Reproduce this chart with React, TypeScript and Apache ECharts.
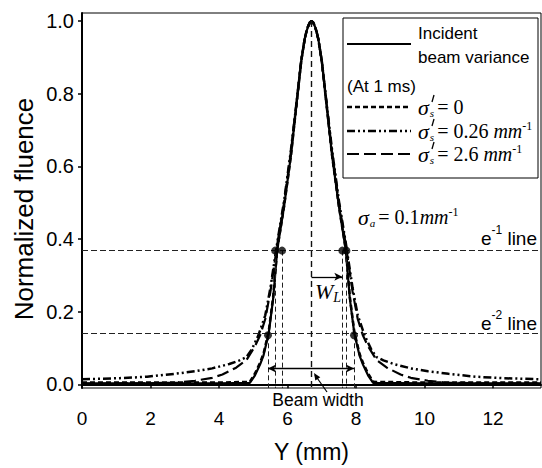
import React, { useEffect, useRef } from "react";
import * as echarts from "echarts";

const SANS = "'Liberation Sans', Arial, sans-serif";
const SERIF = "'Liberation Serif', 'Times New Roman', serif";

// ---- axes ----
const xTicks = [0, 2, 4, 6, 8, 10, 12];
const yTicks = [0, 0.2, 0.4, 0.6, 0.8, 1.0];

// ---- Incident beam variance (solid) ----
const incidentX = [0, 2, 4, 4.9, 5.05, 5.2, 5.3, 5.45, 5.58, 5.7, 5.9, 6.1, 6.25, 6.4, 6.5, 6.55, 6.6, 6.65, 6.7, 6.75, 6.8, 6.85, 6.9, 7.0, 7.15, 7.3, 7.5, 7.7, 7.82, 7.95, 8.1, 8.2, 8.35, 8.5, 10, 12, 13.4];
const incidentY = [0.003, 0.003, 0.003, 0.004, 0.025, 0.055, 0.08, 0.14, 0.235, 0.37, 0.49, 0.63, 0.76, 0.89, 0.95, 0.97, 0.985, 0.996, 1.0, 0.996, 0.985, 0.97, 0.95, 0.89, 0.76, 0.63, 0.49, 0.37, 0.235, 0.14, 0.08, 0.055, 0.025, 0.004, 0.003, 0.003, 0.003];

// ---- sigma_s' = 0 (short dash) ----
const zeroX = [0, 2, 4, 4.9, 5.05, 5.2, 5.3, 5.45, 5.58, 5.7, 5.9, 6.1, 6.25, 6.4, 6.5, 6.55, 6.6, 6.65, 6.7, 6.75, 6.8, 6.85, 6.9, 7.0, 7.15, 7.3, 7.5, 7.7, 7.82, 7.95, 8.1, 8.2, 8.35, 8.5, 10, 12, 13.4];
const zeroY = [0.005, 0.005, 0.005, 0.007, 0.03, 0.06, 0.085, 0.145, 0.24, 0.372, 0.49, 0.63, 0.76, 0.89, 0.95, 0.97, 0.985, 0.996, 1.0, 0.996, 0.985, 0.97, 0.95, 0.89, 0.76, 0.63, 0.49, 0.372, 0.24, 0.145, 0.085, 0.06, 0.03, 0.007, 0.005, 0.005, 0.005];

// ---- sigma_s' = 0.26 mm^-1 (dash-dot-dot) ----
const s026X = [0, 1.1, 1.9, 2.7, 3.3, 3.8, 4.3, 4.6, 4.8, 4.95, 5.15, 5.35, 5.5, 5.7, 5.9, 6.1, 6.25, 6.4, 6.5, 6.55, 6.6, 6.65, 6.7, 6.75, 6.8, 6.85, 6.9, 7.0, 7.15, 7.3, 7.5, 7.7, 7.9, 8.05, 8.25, 8.45, 8.6, 8.8, 9.1, 9.6, 10.1, 10.7, 11.5, 12.3, 13.4];
const s026Y = [0.014, 0.017, 0.021, 0.029, 0.036, 0.044, 0.056, 0.066, 0.075, 0.095, 0.135, 0.19, 0.265, 0.39, 0.505, 0.645, 0.765, 0.89, 0.95, 0.97, 0.985, 0.996, 1.0, 0.996, 0.985, 0.97, 0.95, 0.89, 0.765, 0.645, 0.505, 0.39, 0.265, 0.19, 0.135, 0.095, 0.075, 0.066, 0.056, 0.044, 0.036, 0.029, 0.021, 0.017, 0.014];

// ---- sigma_s' = 2.6 mm^-1 (long dash) ----
const s26X = [0, 2.0, 2.8, 3.3, 3.8, 4.1, 4.5, 4.8, 5.05, 5.2, 5.35, 5.5, 5.7, 5.9, 6.1, 6.25, 6.4, 6.5, 6.55, 6.6, 6.65, 6.7, 6.75, 6.8, 6.85, 6.9, 7.0, 7.15, 7.3, 7.5, 7.7, 7.9, 8.05, 8.2, 8.35, 8.6, 8.9, 9.3, 9.6, 10.1, 10.6, 11.4, 13.4];
const s26Y = [0.002, 0.003, 0.005, 0.01, 0.018, 0.027, 0.046, 0.067, 0.105, 0.135, 0.18, 0.255, 0.385, 0.5, 0.64, 0.765, 0.89, 0.95, 0.97, 0.985, 0.996, 1.0, 0.996, 0.985, 0.97, 0.95, 0.89, 0.765, 0.64, 0.5, 0.385, 0.255, 0.18, 0.135, 0.105, 0.067, 0.046, 0.027, 0.018, 0.01, 0.005, 0.003, 0.002];

// ---- annotation values ----
const beamCenter = 6.7;
const eLevels = [0.368, 0.135];
const e1Crossings = [5.64, 5.84, 7.6, 7.72];
const e2Crossings = [5.43, 7.94];
const wlLevel = 0.296;
const beamWidthLevel = 0.044;
const yMin = -0.01;
const yMax = 1.022;

const zip = (xs: number[], ys: number[]) => xs.map((x, i) => [x, ys[i]]);

const mathRich = {
  g: { fontSize: 22, fontFamily: SERIF, fontStyle: "italic", lineHeight: 22, fill: "#000" },
  sub: { fontSize: 11, fontFamily: SERIF, fontStyle: "italic", lineHeight: 10, verticalAlign: "bottom", fill: "#000", padding: [0, 3, 0, 1] },
  r: { fontSize: 20, fontFamily: SERIF, lineHeight: 22, fill: "#000" },
  i: { fontSize: 20, fontFamily: SERIF, fontStyle: "italic", lineHeight: 22, fill: "#000" },
  sup: { fontSize: 12, fontFamily: SERIF, lineHeight: 11, verticalAlign: "top", fill: "#000" },
};

function sigmaLabel(x: number, y: number, rest: string) {
  return [
    { type: "text", x, y, z: 101, style: { text: "{g|σ}{sub|s}" + rest, textVerticalAlign: "middle", rich: mathRich } },
    // prime mark drawn as a tiny stroke above the subscript
    { type: "line", z: 101, shape: { x1: x + 16, y1: y - 12, x2: x + 14, y2: y - 5 }, style: { stroke: "#000", lineWidth: 1.3 } },
  ];
}

export default function App() {
  const ref = useRef<HTMLDivElement>(null);
  useEffect(() => {
    const chart = echarts.init(ref.current!, undefined, { renderer: "svg" });
    const black = "#000";
    const option: any = {
      animation: false,
      backgroundColor: "#fff",
      grid: { left: 82, right: 1, top: 13, bottom: 79, show: true, borderColor: black, borderWidth: 1, backgroundColor: "transparent" },
      xAxis: {
        type: "value", min: 0, max: 13.4,
        axisLine: { lineStyle: { color: black, width: 2 } },
        axisTick: { show: true, length: 4, customValues: xTicks, lineStyle: { color: black, width: 1.5 } },
        axisLabel: { customValues: xTicks, margin: 21, fontSize: 19, color: black, fontFamily: SANS },
        splitLine: { show: false },
        name: "Y (mm)", nameLocation: "middle", nameGap: 52,
        nameTextStyle: { fontSize: 23, color: black, fontFamily: SANS },
      },
      yAxis: {
        type: "value", min: yMin, max: yMax,
        axisLine: { show: true, lineStyle: { color: black, width: 2 } },
        axisTick: { show: true, length: 4, customValues: yTicks, lineStyle: { color: black, width: 1.5 } },
        axisLabel: { customValues: yTicks, margin: 8, fontSize: 20, color: black, fontFamily: SANS, formatter: (v: number) => v.toFixed(1) },
        splitLine: { show: false },
      },
      series: [
        {
          name: "σs' = 2.6", type: "line", data: zip(s26X, s26Y), symbol: "none", z: 3,
          lineStyle: { color: black, width: 2.2, type: [12, 5] },
        },
        {
          name: "σs' = 0.26", type: "line", data: zip(s026X, s026Y), symbol: "none", z: 3,
          lineStyle: { color: black, width: 2.5, type: [8, 3, 2, 3, 2, 3] },
        },
        {
          name: "σs' = 0", type: "line", data: zip(zeroX, zeroY), symbol: "none", z: 3,
          lineStyle: { color: black, width: 2.5, type: [5, 3] },
        },
        {
          name: "Incident beam variance", type: "line", data: zip(incidentX, incidentY), symbol: "none", z: 4,
          lineStyle: { color: black, width: 2.2 },
        },
        {
          name: "crossings", type: "scatter", z: 5, symbol: "circle", symbolSize: 8,
          itemStyle: { color: black },
          data: [
            ...e1Crossings.map((x) => [x, eLevels[0]]),
            ...e2Crossings.map((x) => [x, eLevels[1]]),
          ],
        },
        {
          name: "eLines", type: "line", data: [], z: 2,
          markLine: {
            silent: true, symbol: ["none", "none"], label: { show: false },
            lineStyle: { color: "#222", width: 1, type: [6, 3] },
            data: eLevels.map((v) => ({ yAxis: v })),
          },
        },
        {
          name: "drops", type: "line", data: [], z: 2,
          markLine: {
            silent: true, symbol: ["none", "none"], label: { show: false },
            lineStyle: { color: "#222", width: 1, type: [5, 3] },
            data: [
              ...e1Crossings.map((x) => [{ coord: [x, eLevels[0]] }, { coord: [x, yMin] }]),
              ...e2Crossings.map((x) => [{ coord: [x, eLevels[1]] }, { coord: [x, yMin] }]),
            ],
          },
        },
        {
          name: "center", type: "line", data: [], z: 2,
          markLine: {
            silent: true, symbol: ["none", "none"], label: { show: false },
            lineStyle: { color: "#111", width: 1.4, type: [6, 4] },
            data: [[{ coord: [beamCenter, 1.0] }, { coord: [beamCenter, yMin] }]],
          },
        },
        {
          name: "arrows", type: "line", data: [], z: 6,
          markLine: {
            silent: true, symbol: ["none", "none"], label: { show: false },
            lineStyle: { color: black, width: 1.3, type: "solid" },
            data: [
              [{ coord: [beamCenter, wlLevel] }, { coord: [e1Crossings[2], wlLevel], symbol: "arrow", symbolSize: [6, 8] }],
              [
                { coord: [e2Crossings[0], beamWidthLevel], symbol: "arrow", symbolSize: [6, 8] },
                { coord: [e2Crossings[1], beamWidthLevel], symbol: "arrow", symbolSize: [6, 8] },
              ],
            ],
          },
        },
      ],
      graphic: [
        // y axis title
        {
          type: "text", x: 24, y: 209, rotation: Math.PI / 2, z: 100,
          style: { text: "Normalized fluence", font: `26px ${SANS}`, fill: black, textAlign: "center", textVerticalAlign: "middle" },
        },
        // legend box
        { type: "rect", z: 100, shape: { x: 343, y: 18, width: 195, height: 160 }, style: { fill: "#fff", stroke: black, lineWidth: 1 } },
        { type: "line", z: 101, shape: { x1: 347, y1: 44, x2: 411, y2: 44 }, style: { stroke: black, lineWidth: 2 } },
        { type: "text", x: 418, y: 33, z: 101, style: { text: "Incident", font: `17px ${SANS}`, fill: black, textVerticalAlign: "middle" } },
        { type: "text", x: 418, y: 57, z: 101, style: { text: "beam variance", font: `17px ${SANS}`, fill: black, textVerticalAlign: "middle" } },
        { type: "text", x: 347, y: 86, z: 101, style: { text: "(At 1 ms)", font: `17px ${SANS}`, fill: black, textVerticalAlign: "middle" } },
        { type: "line", z: 101, shape: { x1: 347, y1: 107, x2: 411, y2: 107 }, style: { stroke: black, lineWidth: 2.5, lineDash: [5, 3] } },
        { type: "line", z: 101, shape: { x1: 347, y1: 131, x2: 411, y2: 131 }, style: { stroke: black, lineWidth: 2.5, lineDash: [8, 3, 2, 3, 2, 3] } },
        { type: "line", z: 101, shape: { x1: 347, y1: 154, x2: 411, y2: 154 }, style: { stroke: black, lineWidth: 2, lineDash: [12, 5] } },
        ...sigmaLabel(418, 107, "{r|= 0}"),
        ...sigmaLabel(418, 131, "{r|= 0.26 }{i|mm}{sup|-1}"),
        ...sigmaLabel(418, 154, "{r|= 2.6 }{i|mm}{sup|-1}"),
        // sigma_a annotation
        {
          type: "text", x: 358, y: 217, z: 101,
          style: { text: "{g|σ}{sub|a}{r|= 0.1}{i|mm}{sup|-1}", textVerticalAlign: "middle", rich: mathRich },
        },
        // e lines
        {
          type: "text", x: 537, y: 238, z: 101,
          style: {
            text: "{b|e}{s|-1}{b| line}", textAlign: "right", textVerticalAlign: "middle",
            rich: {
              b: { fontSize: 19, fontFamily: SANS, lineHeight: 28, fill: black },
              s: { fontSize: 12, fontFamily: SANS, lineHeight: 12, verticalAlign: "top", fill: black },
            },
          },
        },
        {
          type: "text", x: 537, y: 323, z: 101,
          style: {
            text: "{b|e}{s|-2}{b| line}", textAlign: "right", textVerticalAlign: "middle",
            rich: {
              b: { fontSize: 19, fontFamily: SANS, lineHeight: 28, fill: black },
              s: { fontSize: 12, fontFamily: SANS, lineHeight: 12, verticalAlign: "top", fill: black },
            },
          },
        },
        // W_L
        {
          type: "text", x: 315, y: 291, z: 101,
          style: {
            text: "{w|W}{l|L}", textVerticalAlign: "middle",
            rich: {
              w: { fontSize: 22, fontFamily: SERIF, fontStyle: "italic", lineHeight: 26, fill: black },
              l: { fontSize: 14, fontFamily: SERIF, fontStyle: "italic", lineHeight: 14, verticalAlign: "bottom", fill: black },
            },
          },
        },
        // Beam width
        { type: "text", x: 318, y: 400, z: 101, style: { text: "Beam width", font: `17.5px ${SANS}`, fill: black, textAlign: "center", textVerticalAlign: "middle" } },
        { type: "line", z: 101, shape: { x1: 327, y1: 392, x2: 315, y2: 375 }, style: { stroke: black, lineWidth: 1.2 } },
        { type: "polygon", z: 101, shape: { points: [[314, 373], [320.3, 377.3], [315.3, 380.5]] }, style: { fill: black } },
      ],
    };
    chart.setOption(option);
    return () => chart.dispose();
  }, []);
  return <div ref={ref} style={{ position: "fixed", left: 0, top: 0, width: 542, height: 468 }} />;
}
